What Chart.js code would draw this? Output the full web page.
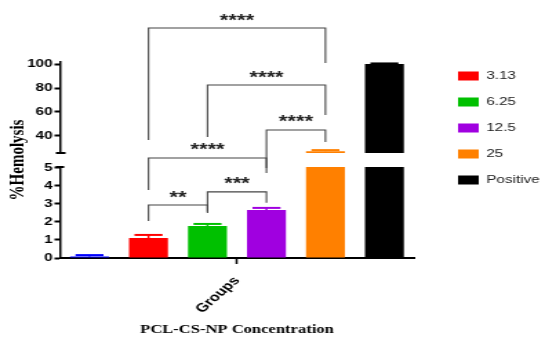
<!DOCTYPE html>
<html>
<head>
<meta charset="utf-8">
<script src="https://cdn.jsdelivr.net/npm/chart.js@4.4.1/dist/chart.umd.min.js"></script>
<style>
  html, body { margin: 0; padding: 0; background: #fff; overflow: hidden; }
  /* the original figure is stretched sideways, so the canvas is too */
  #wrap { width: 395px; height: 338px; transform: scaleX(1.3797); transform-origin: 0 0; }
</style>
</head>
<body>
<div id="wrap"><canvas id="hemolysisChart"></canvas></div>
<script>
const groups = ['Groups'];
const seriesNames = ['', '3.13', '6.25', '12.5', '25', 'Positive'];
const hemolysis = [0.08, 1.11, 1.78, 2.67, 27.3, 100];
const errorTop = [0.16, 1.28, 1.89, 2.78, 28.2, 100.5];
const seriesColors = ['#0000ff', '#ff0000', '#00c000', '#a000e0', '#ff8000', '#000000'];
const lowerTicks = [0, 1, 2, 3, 4, 5];
const upperTicks = [40, 60, 80, 100];
const lowerRange = [0, 5.05];
const upperRange = [25.8, 101.7];
// significance brackets: [from, to, line level, left leg end, right leg end, label]
const brackets = [
  [1, 4, 130, 36.7, 100.8, '****'],
  [2, 4, 82.5, 39.2, 57.5, '****'],
  [3, 4, 45, 4.72, 35, '****'],
  [1, 3, 18.4, 3.78, 5.0, '****'],
  [1, 2, 2.94, 2.06, 2.5, '**'],
  [2, 3, 3.67, 2.56, 3.06, '***']
];

// every group is drawn twice: once on the lower segment, once on the upper one
const datasets = [];
seriesNames.forEach((name, i) => {
  ['y', 'y2'].forEach(axis => {
    datasets.push({
      label: name,
      data: [hemolysis[i]],
      yAxisID: axis,
      stack: 's' + i,
      backgroundColor: seriesColors[i],
      barPercentage: 0.66,
      categoryPercentage: 1
    });
  });
});

// value -> pixel on the broken axis
function yPix(chart, v) {
  const lo = chart.scales.y, hi = chart.scales.y2;
  if (v <= lo.max) return lo.getPixelForValue(v);
  if (v >= hi.min) return hi.getPixelForValue(v);
  const t = (v - lo.max) / (hi.min - lo.max);
  return lo.top + t * (hi.bottom - lo.top);
}

const brokenAxis = {
  id: 'brokenAxis',
  afterLayout(chart) {
    const lg = chart.legend;
    lg.left = 317;
    lg.right = chart.width;
    lg.top = 55.5;
    lg.bottom = chart.height;
  },
  beforeDatasetDraw(chart, args) {
    const scale = chart.scales[args.meta.yAxisID];
    const a = chart.chartArea;
    const ctx = chart.ctx;
    ctx.save();
    ctx.beginPath();
    ctx.rect(a.left, scale.top, a.right - a.left, scale.bottom - scale.top);
    ctx.clip();
  },
  afterDatasetDraw(chart) {
    chart.ctx.restore();
  },
  afterDatasetsDraw(chart) {
    const ctx = chart.ctx;
    ctx.save();
    hemolysis.forEach((v, i) => {
      const bar = chart.getDatasetMeta(i * 2).data[0];
      const top = yPix(chart, v);
      const err = yPix(chart, errorTop[i]);
      const half = bar.width * 0.36;
      ctx.strokeStyle = seriesColors[i];
      ctx.lineWidth = 1.5;
      ctx.beginPath();
      ctx.moveTo(bar.x, top);
      ctx.lineTo(bar.x, err);
      ctx.stroke();
      ctx.lineWidth = 2;
      ctx.beginPath();
      ctx.moveTo(bar.x - half, err);
      ctx.lineTo(bar.x + half, err);
      ctx.stroke();
    });
    ctx.restore();
  },
  afterDraw(chart) {
    const ctx = chart.ctx;
    const lo = chart.scales.y, hi = chart.scales.y2;
    const ax = chart.chartArea.left;
    ctx.save();
    // break marks
    ctx.strokeStyle = '#000';
    ctx.lineWidth = 2;
    ctx.beginPath();
    ctx.moveTo(ax - 3, hi.bottom);
    ctx.lineTo(ax + 4, hi.bottom);
    ctx.moveTo(ax - 3, lo.top);
    ctx.lineTo(ax + 3, lo.top);
    ctx.stroke();
    // brackets
    ctx.strokeStyle = '#444';
    ctx.lineWidth = 1.1;
    ctx.fillStyle = '#222';
    ctx.font = 'bold 16px "Liberation Sans"';
    ctx.textAlign = 'center';
    ctx.textBaseline = 'alphabetic';
    brackets.forEach(([a, b, level, legA, legB, label]) => {
      const xa = chart.getDatasetMeta(a * 2).data[0].x;
      const xb = chart.getDatasetMeta(b * 2).data[0].x;
      const yl = yPix(chart, level);
      ctx.beginPath();
      ctx.moveTo(xa, yPix(chart, legA));
      ctx.lineTo(xa, yl);
      ctx.lineTo(xb, yl);
      ctx.lineTo(xb, yPix(chart, legB));
      ctx.stroke();
      ctx.fillText(label, (xa + xb) / 2, yl - 2.5);
    });
    ctx.restore();
  }
};

const tickFont = { family: 'Liberation Sans', size: 11, weight: 'bold' };
const yGrid = { drawOnChartArea: false, drawTicks: true, tickLength: 4, tickWidth: 2, tickColor: '#000' };
const yBorder = { display: true, color: '#000', width: 1.5 };
const fitWidth = (scale) => { scale.width = 43.5; };

new Chart(document.getElementById('hemolysisChart'), {
  type: 'bar',
  data: { labels: groups, datasets: datasets },
  options: {
    responsive: true,
    maintainAspectRatio: false,
    animation: false,
    layout: { padding: { top: 62, right: 35, bottom: 0, left: 0 } },
    plugins: {
      tooltip: { enabled: false },
      legend: {
        position: 'right',
        align: 'start',
        maxWidth: 60,
        labels: {
          boxWidth: 15,
          boxHeight: 9,
          padding: 15,
          color: '#222',
          font: { family: 'Liberation Sans', size: 11 },
          filter: (item) => item.datasetIndex % 2 === 0 && item.text !== ''
        }
      }
    },
    scales: {
      x: {
        offset: true,
        grid: { display: true, drawOnChartArea: false, offset: false, tickLength: 6, tickWidth: 1.5, tickColor: '#000' },
        border: { color: '#000', width: 2 },
        ticks: { color: '#000', font: { family: 'Liberation Sans', size: 12, weight: 'bold' }, minRotation: 50, maxRotation: 50, padding: 10 },
        title: {
          display: true,
          text: 'PCL-CS-NP Concentration',
          color: '#000',
          font: { family: 'Liberation Serif', size: 12, weight: 'bold' },
          padding: { top: 0, bottom: 1 }
        },
        afterFit(scale) { scale.height = 80; }
      },
      y: {
        position: 'left', stack: 'hemo', stackWeight: 91, stacked: false,
        min: lowerRange[0], max: lowerRange[1],
        grid: yGrid, border: yBorder,
        ticks: { color: '#000', padding: 1.5, font: tickFont, autoSkip: false },
        afterBuildTicks(scale) { scale.ticks = lowerTicks.map(v => ({ value: v })); },
        afterFit: fitWidth
      },
      yGap: {
        position: 'left', stack: 'hemo', stackWeight: 14,
        min: 0, max: 1,
        grid: { display: false },
        border: { display: false },
        ticks: { display: false },
        title: {
          display: true,
          text: '%Hemolysis',
          color: '#000',
          font: { family: 'Liberation Serif', size: 15, weight: 'bold' },
          padding: { top: 4, bottom: 0 }
        },
        afterFit: fitWidth
      },
      y2: {
        position: 'left', stack: 'hemo', stackWeight: 91, stacked: false,
        min: upperRange[0], max: upperRange[1],
        grid: yGrid, border: yBorder,
        ticks: { color: '#000', padding: 1.5, font: tickFont, autoSkip: false },
        afterBuildTicks(scale) { scale.ticks = upperTicks.map(v => ({ value: v })); },
        afterFit: fitWidth
      }
    }
  },
  plugins: [brokenAxis]
});
</script>
</body>
</html>
